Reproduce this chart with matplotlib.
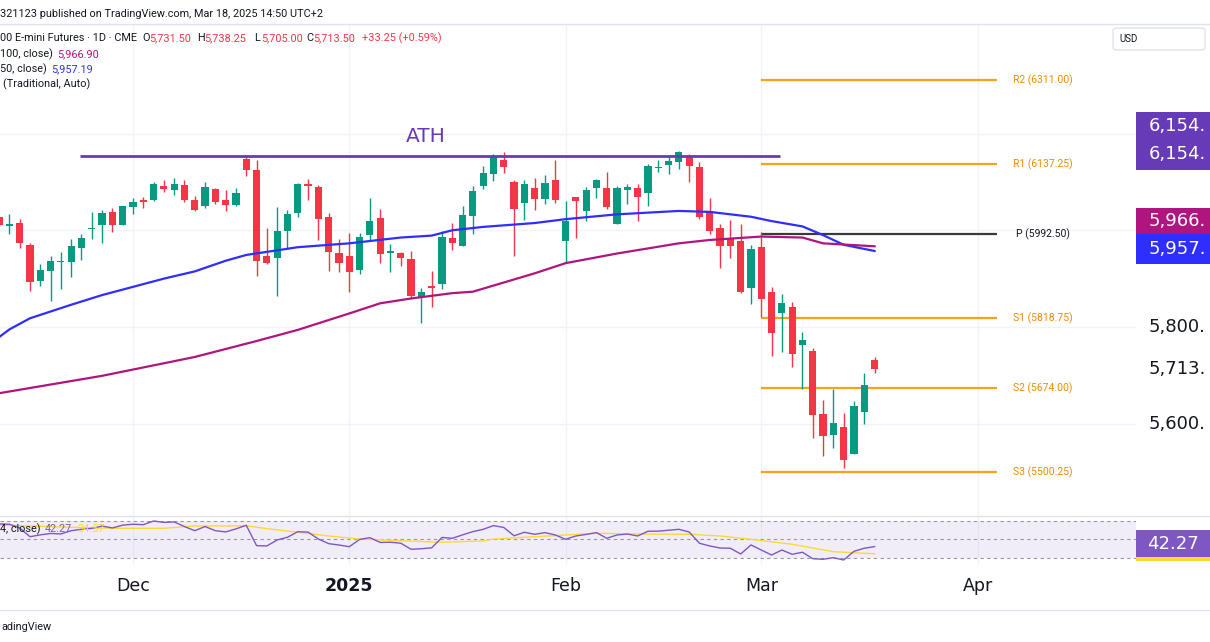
import numpy as np
import matplotlib.pyplot as plt
from matplotlib.patches import Rectangle, FancyBboxPatch
from matplotlib.lines import Line2D
from matplotlib.transforms import blended_transform_factory

# ---- data (bar index 0 = first December session) ----
bars = np.arange(-13, 73)

opens = [6028, 6009.5, 6015, 5970.25, 5895.75, 5915.25, 5933.75, 5935, 5964, 6003.25, 6011, 6038.5, 6011.5,
         6048.75, 6062, 6063.25, 6091.5, 6082.75, 6093, 6062, 6049.5, 6084.75, 6062.5, 6052.25, 6147.5, 6125.25,
         5946.75, 5942, 5998.5, 6035, 6095.75, 6089.5, 6027.5, 5953,
         5946.75, 5918.5, 5991, 6026, 5952.5, 5953, 5941.25, 5862, 5884.75, 5889.5, 5984.75, 5967.5, 6029.5,
         6091, 6117, 6146, 6100, 6055.75, 6088, 6064.75, 6104,
         5978.5, 6068.25, 6040, 6086.75, 6088, 6013, 6082.75, 6088, 6076.5, 6128.25, 6134.5, 6140.5, 6151.5,
         6131, 6039.25, 6004.75, 5981.5, 5977.75, 5880,
         5964.75, 5871.75, 5829.5, 5842, 5762.75, 5750.5, 5619.5, 5577.25, 5593.75, 5537.5, 5623.5, 5731.5]
highs = [6030, 6033.75, 6023.25, 5973.75, 5931, 5946.75, 5955.75, 5982, 5991.75, 6037.25, 6042, 6045.5, 6051,
         6066.25, 6068.75, 6099.25, 6104.5, 6108.75, 6103.5, 6071.5, 6100, 6088, 6084, 6088, 6154, 6145.5,
         6004, 6048.25, 6041.25, 6098.5, 6106, 6093, 6035, 5981.5,
         5993.75, 5994.5, 6066.25, 6044, 5971.5, 5954.5, 5957.25, 5880, 5915.75, 5998.5, 6014.5, 6049.5, 6091,
         6133.5, 6157, 6161.25, 6103.5, 6104.5, 6108.75, 6114.25, 6145.5,
         6060.5, 6069.5, 6089, 6106.75, 6120, 6092.25, 6096.25, 6095, 6136.5, 6145.5, 6154.25, 6164, 6157,
         6140.5, 6066.25, 6013.5, 6021.25, 6012.5, 5969.5,
         5997, 5882, 5867.5, 5851, 5789, 5756, 5649, 5671.75, 5622.25, 5647, 5705.5, 5738.25]
lows = [6008, 5992.25, 5963.5, 5875, 5885.5, 5853.75, 5878.5, 5903.5, 5939.25, 5982.5, 5974.25, 5997, 6010,
        6034.25, 6045.5, 6061.25, 6079.75, 6073, 6059, 6040, 6045.5, 6055, 6040.5, 6049.5, 6112.25, 5904.75,
        5930.25, 5864.75, 5964, 6027.5, 6062, 5980.5, 5916.5, 5914.5,
        5873, 5909, 5978.5, 5933, 5914.5, 5926.75, 5857.25, 5807.75, 5841.5, 5878.5, 5960, 5967.5, 5992.25,
        6086, 6102, 6118.5, 5946.75, 6022, 6041.25, 6054.5, 6055.75,
        5933.75, 5984.75, 6018.5, 6067.5, 6043.5, 6013, 6055, 6018.5, 6050.75, 6120, 6117, 6126.75, 6100.5,
        6023.25, 5991.75, 5922.5, 5943.25, 5871, 5847,
        5820, 5740.5, 5749, 5718, 5671.75, 5569.75, 5533.25, 5549.25, 5507.75, 5537.5, 5598.75, 5705]
closes = [6011, 6013.5, 5974.25, 5893, 5917.25, 5936.5, 5936, 5968, 5983.5, 6005.5, 6035.75, 6011.5, 6049.5,
          6059, 6059, 6096.25, 6086, 6096.25, 6062, 6042.5, 6090, 6058, 6053, 6077.75, 6125.25, 5937,
          5931.75, 5998.5, 6033, 6095, 6091.5, 6024, 5955, 5933,
          5913.75, 5986.75, 6018.5, 5951, 5957.25, 5942, 5864, 5871.75, 5880, 5986.75, 5973, 6031.5, 6082,
          6118, 6152.25, 6130.25, 6044.5, 6095, 6064.75, 6097.25, 6063.25,
          6019.25, 6061.25, 6083.25, 6104.5, 6047.5, 6086.75, 6089.5, 6069.5, 6132.25, 6130.25, 6144, 6161.25, 6133,
          6027, 5998, 5967.5, 5967.5, 5873, 5960.75,
          5857.25, 5787, 5849, 5743.5, 5773.75, 5618, 5574.5, 5602, 5525, 5637.25, 5680.25, 5713.5]

# moving averages (bar index, value)
sma50_idx = [-13, -12, -10, -6, -3, 0, 3, 6, 9, 11, 16, 21, 26, 29, 31, 34, 39, 42, 47, 53, 56, 60, 62, 65, 67, 69, 72]
sma50_val = [5779, 5795, 5818, 5846, 5866, 5883, 5900, 5915, 5937, 5949, 5965, 5973, 5985, 5989, 6000, 6007,
             6015, 6023, 6033, 6040, 6038, 6028, 6019, 6008, 5990, 5970, 5957.19]
sma100_idx = [-13, -3, 6, 12, 16, 21, 24, 27, 31, 33, 39, 42, 47, 53, 56, 61, 65, 67, 72]
sma100_val = [5663, 5699, 5738, 5771, 5794, 5828, 5849, 5859, 5870, 5873, 5911, 5932, 5952, 5973, 5980, 5987,
              5985, 5973, 5966.90]

# RSI(14) per bar and its moving average
rsi = [66.8, 66.5, 62.5, 53, 55, 56.5, 56, 59.5, 61, 62, 64.5, 62.5, 65.5,
       66.5, 66, 70, 68.5, 69, 64, 59.5, 64, 59.5, 58.2, 61.5, 65.4, 43.3, 43, 49.5, 52.4, 58.4, 58, 50.5, 45.5, 44,
       42.2, 50, 52, 46.8, 47, 46, 39.4, 40, 41, 52.2, 51.3, 55, 58.5, 61, 65, 63, 54, 57.8, 55.6, 57.4, 54.9,
       50.2, 53.8, 55.5, 57.4, 51.3, 54.9, 55.9, 53.8, 58.9, 59, 60, 61, 58.1, 45.9, 43, 40.8, 40.5, 34.3, 44.1,
       38.6, 33.2, 38.6, 34, 36.2, 29.2, 28.6, 30.3, 27.8, 37.2, 40.5, 42.27]
rsi_ma_idx = [-13, -6, -2, 3, 6, 9, 11, 13, 16, 19, 22, 26, 30, 34, 35, 39, 45, 49, 54, 57, 60, 64, 68, 72]
rsi_ma_val = [65.7, 63.2, 62.1, 62.1, 64.6, 64.6, 64.9, 61.7, 57.8, 53.8, 50.5, 48.7, 47, 48.4, 50.5, 53,
              56.7, 55.9, 55.6, 53.8, 50.2, 44.8, 36.8, 34.57]

ath = 6154.0
ath_span = (-5.1, 62.8)
pivot_names = ['R2', 'R1', 'P', 'S1', 'S2', 'S3']
pivot_vals = [6311.00, 6137.25, 5992.50, 5818.75, 5674.00, 5500.25]
pivot_span = (61, 83.9)

month_ticks = [0, 21, 42, 61, 82]
month_labels = ['Dec', '2025', 'Feb', 'Mar', 'Apr']
price_grid = [5600, 5800, 6000, 6200]
price_labels = [5600, 5800]   # 6000 / 6200 sit under the coloured labels

# ---- layout ----
W, H = 1210, 642
UP, DOWN = '#089981', '#f23645'
TXT = '#131722'
GRID = '#f0f3fa'


def fx(x):
    return x / W


def fy(y):
    return 1 - y / H


fig = plt.figure(figsize=(W / 100, H / 100), dpi=100)
ax = fig.add_axes([0, fy(515), fx(1136), (515 - 24) / H])
axr = fig.add_axes([0, fy(565), fx(1136), (565 - 516) / H])

xmin, xmax = -12.91, 97.38
for a in (ax, axr):
    a.set_xlim(xmin, xmax)
    a.axis('off')
    for t in month_ticks:
        a.axvline(t, color=GRID, lw=1, zorder=0)
ax.set_ylim(5411.2, 6426.6)
axr.set_ylim(22.4, 75.4)
for p in price_grid:
    ax.axhline(p, color=GRID, lw=1, zorder=0)

# candles
o, h, l, c = map(np.array, (opens, highs, lows, closes))
cols = np.where(c >= o, UP, DOWN)
ax.vlines(bars, l, h, colors=cols, lw=1, zorder=3)
body = np.maximum(np.abs(c - o), 2.0)
ax.bar(bars, body, bottom=np.minimum(o, c), width=0.7, color=cols, zorder=4)

# moving averages
ax.plot(sma50_idx, sma50_val, color='#2e2eff', lw=1.6, zorder=5)
ax.plot(sma100_idx, sma100_val, color='#b0157f', lw=1.6, zorder=5)

# ATH line
ax.hlines(ath, *ath_span, color='#673ab7', lw=2, zorder=6)
ax.text(28.4, 6193, 'ATH', color='#673ab7', fontsize=14.5, ha='center', va='center')

# pivots
for name, v in zip(pivot_names, pivot_vals):
    col = '#3a3a3a' if name == 'P' else '#f7a21b'
    ax.hlines(v, *pivot_span, color=col, lw=1.6, zorder=2)
    ax.text(88.3, v, f'{name} ({v:.2f})', color='#131722' if name == 'P' else '#f08c00',
            fontsize=7.5, family='Roboto', ha='center', va='center')

# RSI pane
axr.axhspan(30, 70, color='#7e57c2', alpha=0.1, lw=0, zorder=0)
for lv in (70, 50, 30):
    axr.axhline(lv, color='#9598a1', lw=0.8, ls=(0, (3, 3)), zorder=1)
axr.plot(bars, rsi, color='#7e57c2', lw=1, zorder=3)
axr.plot(rsi_ma_idx, rsi_ma_val, color='#fdd835', lw=1, zorder=2)

# right price scale
trans = blended_transform_factory(fig.transFigure, ax.transData)
for p in price_labels:
    ax.text(fx(1149), p, f'{p:,}.', transform=trans, fontsize=13, color=TXT, va='center', clip_on=False)
ax.text(fx(1149), closes[-1], f'{int(closes[-1]):,}.', transform=trans, fontsize=13, color=TXT,
        va='center', clip_on=False)


def box(y0, y1, color):
    fig.add_artist(Rectangle((fx(1136), fy(y1)), fx(74), (y1 - y0) / H, transform=fig.transFigure,
                             color=color, lw=0, zorder=5))


box(112, 170, '#673ab7')
fig.text(fx(1149), fy(126), f'{int(ath):,}.', color='white', fontsize=13, va='center', zorder=6)
fig.text(fx(1149), fy(154), f'{int(ath):,}.', color='white', fontsize=13, va='center', zorder=6)
box(208, 234, '#b0157f')
fig.text(fx(1149), fy(221), f'{int(sma100_val[-1]):,}.', color='white', fontsize=13, va='center', zorder=6)
box(234, 264, '#2e2eff')
fig.text(fx(1149), fy(249), f'{int(sma50_val[-1]):,}.', color='white', fontsize=13, va='center', zorder=6)
box(530, 561, '#7e57c2')
box(557, 561, '#fdd835')
fig.text(fx(1147), fy(544), f'{rsi[-1]:.2f}', color='white', fontsize=13, va='center', zorder=6)

fig.add_artist(FancyBboxPatch((fx(1113), fy(50)), fx(92), 22 / H, boxstyle='round,pad=0,rounding_size=0.004',
                              transform=fig.transFigure, fc='white', ec='#e0e3eb', lw=1, zorder=5))
fig.text(fx(1119), fy(39), 'USD', fontsize=7, family='Roboto', color=TXT, va='center', zorder=6)

# separators
for yy in (24, 515.5, 610):
    fig.add_artist(Line2D([0, 1], [fy(yy), fy(yy)], transform=fig.transFigure, color='#e0e3eb', lw=1))

# time axis
for t, lab in zip(month_ticks, month_labels):
    xp = 133 + t * 10.3
    fig.text(fx(xp), fy(586), lab, fontsize=12.5, color=TXT, ha='center', va='center',
             fontweight='bold' if lab == '2025' else 'normal')

# header
hf = dict(fontsize=7.8, family='Roboto', va='center')
fig.text(0, fy(14), '321123 published on TradingView.com, Mar 18, 2025 14:50 UTC+2', color=TXT, **hf)
chg = closes[-1] - closes[-2]
pct = chg / closes[-2] * 100
fig.text(0, fy(38), '00 E-mini Futures · 1D · CME', color=TXT, **hf)
for lab, val, xp in (('O', opens[-1], 142.5), ('H', highs[-1], 197.5), ('L', lows[-1], 254.5),
                     ('C', closes[-1], 306)):
    fig.text(fx(xp), fy(38), lab, color=TXT, **hf)
    fig.text(fx(xp + 7), fy(38), f'{val:,.2f}', color=DOWN, **hf)
fig.text(fx(362), fy(38), f'{chg:+.2f} ({pct:+.2f}%)', color=DOWN, **hf)
fig.text(0, fy(54), '100, close)', color=TXT, **hf)
fig.text(fx(57), fy(54), f'{sma100_val[-1]:,.2f}', color='#b0157f', **hf)
fig.text(0, fy(69), '50, close)', color=TXT, **hf)
fig.text(fx(51), fy(69), f'{sma50_val[-1]:,.2f}', color='#2e2eff', **hf)
fig.text(fx(3), fy(84), '(Traditional, Auto)', color=TXT, **hf)

fig.text(0, fy(529), '4, close)', color=TXT, **hf)
fig.text(fx(45), fy(529), f'{rsi[-1]:.2f}', color='#7e57c2', **hf)
fig.text(fx(77), fy(529), f'{rsi_ma_val[-1]:.2f}', color='#fdd835', **hf)

fig.text(fx(1), fy(627), 'adingView', color=TXT, **hf)

fig.savefig('out.png', dpi=100)
